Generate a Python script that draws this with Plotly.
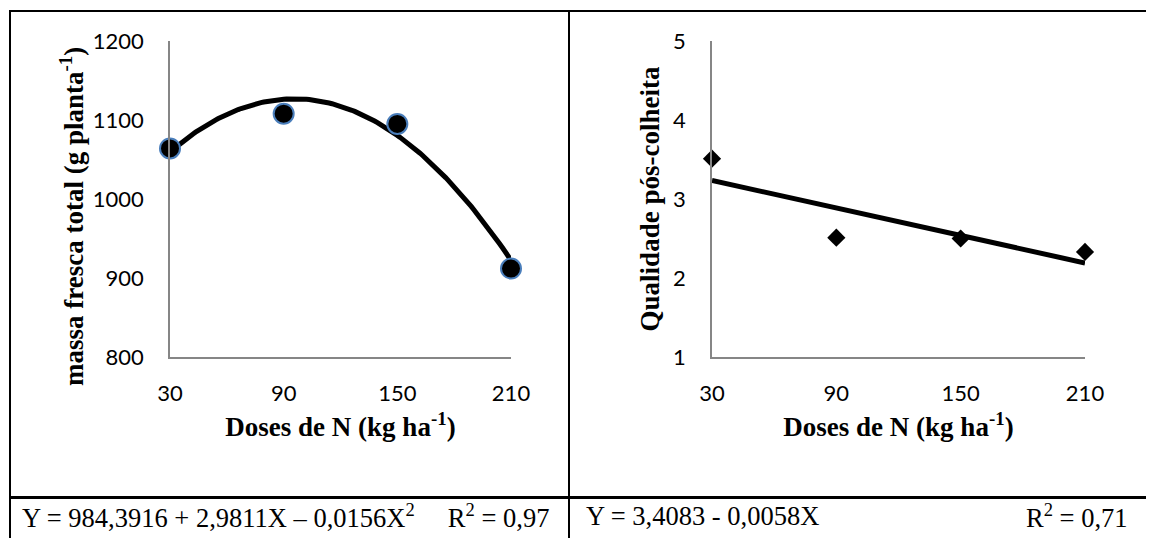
import numpy as np
import plotly.graph_objects as go

# ---------------- data ----------------
doses = [30, 90, 150, 210]
massa_fresca = [1064, 1108, 1095, 912]
qualidade = [3.51, 2.51, 2.50, 2.33]
x_ticks = [30, 90, 150, 210]
massa_ticks = [800, 900, 1000, 1100, 1200]
qual_ticks = [1, 2, 3, 4, 5]
quad_coef = [984.3916, 2.9811, -0.0156]   # b0, b1, b2 (regression shown in the table)
lin_coef = [3.4083, -0.0058]              # b0, b1
eq_left = "Y = 984,3916 + 2,9811X – 0,0156X<sup>2</sup>     R<sup>2</sup> = 0,97"
eq_right = "Y = 3,4083 - 0,0058X"
r2_right = "R<sup>2</sup> = 0,71"
x_title = "Doses de N (kg ha<sup>-1</sup>)"
y1_title = "massa fresca total (g planta<sup>-1</sup>)"
y2_title = "Qualidade pós-colheita"

# ---------------- geometry helpers ----------------
# the page body adds an 8px margin, so the figure is offset by 8px
OFF = 8
W, H = 1154 - OFF, 538 - OFF
def px(x):
    return (x - OFF) / W
def py(y):
    return 1 - (y - OFF) / H

trend_x = np.linspace(min(doses), max(doses), 121)
trend_quad = quad_coef[0] + quad_coef[1] * trend_x + quad_coef[2] * trend_x ** 2
trend_lin = lin_coef[0] + lin_coef[1] * trend_x

fig = go.Figure()

fig.add_trace(go.Scatter(x=trend_x, y=trend_quad, mode="lines",
                         line=dict(color="black", width=5),
                         xaxis="x", yaxis="y", cliponaxis=False, hoverinfo="skip"))
fig.add_trace(go.Scatter(x=doses, y=massa_fresca, mode="markers",
                         marker=dict(symbol="circle", size=20, color="black",
                                     line=dict(color="#4a7ebb", width=2)),
                         xaxis="x", yaxis="y", cliponaxis=False))

fig.add_trace(go.Scatter(x=trend_x, y=trend_lin, mode="lines",
                         line=dict(color="black", width=5),
                         xaxis="x2", yaxis="y2", cliponaxis=False, hoverinfo="skip"))
fig.add_trace(go.Scatter(x=doses, y=qualidade, mode="markers",
                         marker=dict(symbol="diamond", size=14, color="black",
                                     line=dict(width=0)),
                         xaxis="x2", yaxis="y2", cliponaxis=False))

tick_font = dict(family="Lato, Open Sans, sans-serif", size=22, color="black")
title_font = dict(family="Liberation Serif, Times New Roman, serif", size=27,
                  color="black", weight="bold")

common_x = dict(range=[30, 210], tickvals=x_ticks, showline=True, automargin=False,
                linecolor="#868686", linewidth=1.5, showgrid=False, zeroline=False,
                ticks="outside", ticklen=16, tickcolor="rgba(0,0,0,0)",
                tickfont=tick_font,
                title=dict(text=x_title, font=title_font, standoff=12))
common_y = dict(showline=True, linecolor="#868686", linewidth=1.5, automargin=False,
                showgrid=False, zeroline=False, ticks="outside", ticklen=20,
                tickcolor="rgba(0,0,0,0)", tickfont=tick_font)

fig.update_layout(
    width=W, height=H,
    margin=dict(l=0, r=0, t=0, b=0, pad=0, autoexpand=False),
    paper_bgcolor="white", plot_bgcolor="white",
    showlegend=False,
    xaxis=dict(domain=[px(170), px(511)], anchor="y", **common_x),
    yaxis=dict(domain=[py(357), py(41)], anchor="x", range=[800, 1200],
               tickvals=massa_ticks, **common_y),
    xaxis2=dict(domain=[px(712), px(1085)], anchor="y2", **common_x),
    yaxis2=dict(domain=[py(357), py(41)], anchor="x2", range=[1, 5],
                tickvals=qual_ticks,
                title=dict(text=y2_title, font=title_font, standoff=6),
                **common_y),
)

# left y-axis title (sits a little below the axis centre in the reference)
fig.add_annotation(text=y1_title, xref="paper", yref="paper", x=px(72), y=py(217),
                   xanchor="center", yanchor="middle", textangle=-90,
                   showarrow=False, font=title_font)

# table borders
line_style = dict(color="black", width=2)
shapes = [
    dict(type="line", xref="paper", yref="paper", x0=px(9), x1=px(1154), y0=py(11), y1=py(11), line=line_style),
    dict(type="line", xref="paper", yref="paper", x0=px(10), x1=px(10), y0=py(10), y1=py(538), line=line_style),
    dict(type="line", xref="paper", yref="paper", x0=px(569), x1=px(569), y0=py(10), y1=py(538), line=line_style),
    dict(type="line", xref="paper", yref="paper", x0=px(9), x1=px(1154), y0=py(497.5), y1=py(497.5),
         line=dict(color="black", width=3)),
]
fig.update_layout(shapes=shapes)

eq_font = dict(family="Liberation Serif, Times New Roman, serif", size=26.5, color="black")
fig.add_annotation(text=eq_left, xref="paper", yref="paper", x=px(20), y=py(516),
                   xanchor="left", yanchor="middle", showarrow=False, font=eq_font)
fig.add_annotation(text=eq_right, xref="paper", yref="paper", x=px(584), y=py(516),
                   xanchor="left", yanchor="middle", showarrow=False, font=eq_font)
fig.add_annotation(text=r2_right, xref="paper", yref="paper", x=px(1024), y=py(516),
                   xanchor="left", yanchor="middle", showarrow=False, font=eq_font)

fig.write_html("out.html")
